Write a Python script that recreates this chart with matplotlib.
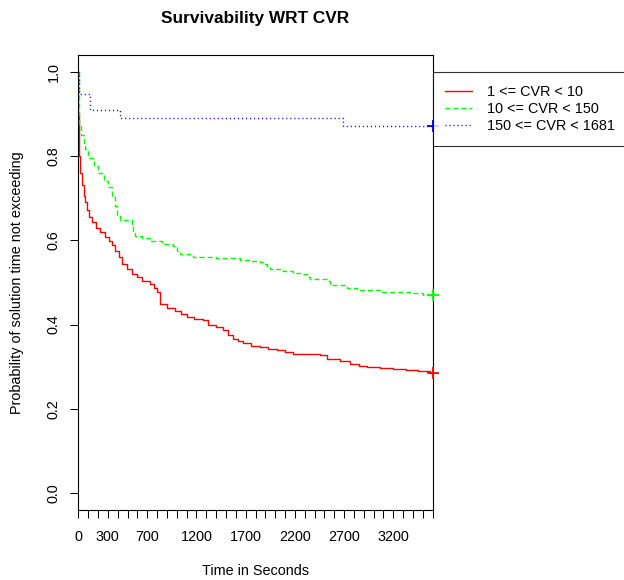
import matplotlib
matplotlib.use("Agg")
import matplotlib.pyplot as plt
import numpy as np

plt.rcParams['font.family'] = ['Liberation Sans', 'DejaVu Sans']

# ---- data ----
labels = ["1 <= CVR < 10", "10 <= CVR < 150", "150 <= CVR < 1681"]
colors = ["#FF0000", "#00FF00", "#0000FF"]

red_t = [0, 2, 5, 10, 20, 35, 54, 70, 88, 110, 139, 180, 223, 274, 307, 342, 375,
         410, 443, 494, 544, 600, 646, 730, 770, 798, 832, 899, 984, 1040, 1102,
         1180, 1271, 1321, 1400, 1473, 1520, 1575, 1620, 1676, 1750, 1846, 1930,
         2015, 2100, 2183, 2454, 2522, 2657, 2758, 2850, 2928, 3062, 3200, 3333,
         3450, 3570]
red_s = [1.0, 0.90, 0.84, 0.80, 0.76, 0.73, 0.705, 0.69, 0.672, 0.655, 0.642, 0.63,
         0.62, 0.607, 0.597, 0.588, 0.575, 0.56, 0.544, 0.532, 0.52, 0.512, 0.504,
         0.496, 0.487, 0.477, 0.449, 0.439, 0.433, 0.425, 0.418, 0.414, 0.410,
         0.398, 0.393, 0.386, 0.375, 0.366, 0.36, 0.355, 0.35, 0.347, 0.343,
         0.339, 0.335, 0.331, 0.327, 0.317, 0.314, 0.306, 0.302, 0.299, 0.296,
         0.294, 0.292, 0.289, 0.286]

green_t = [0, 3, 10, 30, 54, 71, 100, 155, 200, 257, 300, 342, 370, 392, 420, 544,
           560, 578, 650, 730, 850, 966, 1000, 1034, 1169, 1400, 1643, 1744, 1846,
           1879, 1913, 1947, 2082, 2183, 2285, 2319, 2353, 2522, 2556, 2725, 2826,
           3062, 3367, 3502]
green_s = [1.0, 0.92, 0.87, 0.85, 0.831, 0.816, 0.795, 0.776, 0.76, 0.741, 0.725,
           0.705, 0.68, 0.658, 0.648, 0.638, 0.62, 0.611, 0.605, 0.599, 0.592,
           0.587, 0.575, 0.567, 0.559, 0.557, 0.552, 0.550, 0.548, 0.544, 0.536,
           0.532, 0.526, 0.522, 0.520, 0.512, 0.508, 0.504, 0.493, 0.486, 0.481,
           0.477, 0.474, 0.469]

blue_t = [0, 8, 122, 426, 2687]
blue_s = [1.0, 0.947, 0.909, 0.890, 0.872]

end_time = 3600  # last follow-up time (censored)

xtick_pos = list(range(0, 3601, 100))
xtick_labeled = [0, 300, 700, 1200, 1700, 2200, 2700, 3200]
ytick_pos = [0.0, 0.2, 0.4, 0.6, 0.8, 1.0]
ytick_lab = ["0.0", "0.2", "0.4", "0.6", "0.8", "1.0"]

title = "Survivability WRT CVR"
xlabel = "Time in Seconds"
ylabel = "Probability of solution time not exceeding"

# ---- figure ----
W, H = 624, 580
fig = plt.figure(figsize=(W / 100, H / 100), dpi=100)
L, R, T, B = 78.3, 432.7, 54.7, 510.0
ax = fig.add_axes([L / W, 1 - B / H, (R - L) / W, (B - T) / H])

fs = 10.37
styles = ['-', (0, (3.6, 2.2)), (0, (0.8, 2.1))]
series = [(red_t, red_s), (green_t, green_s), (blue_t, blue_s)]
handles = []
for (t, s), c, ls, lab in zip(series, colors, styles, labels):
    tt = list(t) + [end_time]
    ss = list(s) + [s[-1]]
    h, = ax.step(tt, ss, where='post', color=c, linestyle=ls, lw=1.0, label=lab)
    ax.plot([end_time], [s[-1]], marker='+', color=c, ms=9, mew=1.3,
            linestyle='none', clip_on=False, zorder=5)
    handles.append(h)

ax.set_xlim(0, 3600)
ax.set_ylim(-0.04, 1.04)

ax.set_xticks(xtick_pos)
ax.set_xticklabels([str(p) if p in xtick_labeled else "" for p in xtick_pos])
ax.set_yticks(ytick_pos)
ax.set_yticklabels(ytick_lab, rotation=90, va='center')
ax.tick_params(axis='both', direction='out', length=6.0, width=0.75,
               labelsize=fs, pad=8.4)
ax.tick_params(axis='y', pad=6.6)

for sp in ax.spines.values():
    sp.set_linewidth(0.8)
    sp.set_color('black')

ax.set_title(title, fontsize=12.44, fontweight='bold', y=(B - 19.0) / (B - T),
             va='center', pad=0)
ax.set_xlabel(xlabel, fontsize=fs)
ax.xaxis.set_label_coords(0.5, (B - 571) / (B - T))
ax.xaxis.label.set_va('center')
ax.set_ylabel(ylabel, fontsize=fs)
ax.yaxis.set_label_coords((17 - L) / (R - L), 0.5)
ax.yaxis.label.set_va('center')

leg = ax.legend(handles=handles, loc='upper left',
                bbox_to_anchor=(1.0, (B - 72) / (B - T)), borderaxespad=0,
                fontsize=fs, frameon=True, fancybox=False, edgecolor='black',
                handlelength=1.875, handletextpad=1.0, borderpad=0.88,
                labelspacing=0.22)
leg.get_frame().set_linewidth(0.8)
leg.set_clip_on(False)

fig.savefig("out.png", dpi=100)
